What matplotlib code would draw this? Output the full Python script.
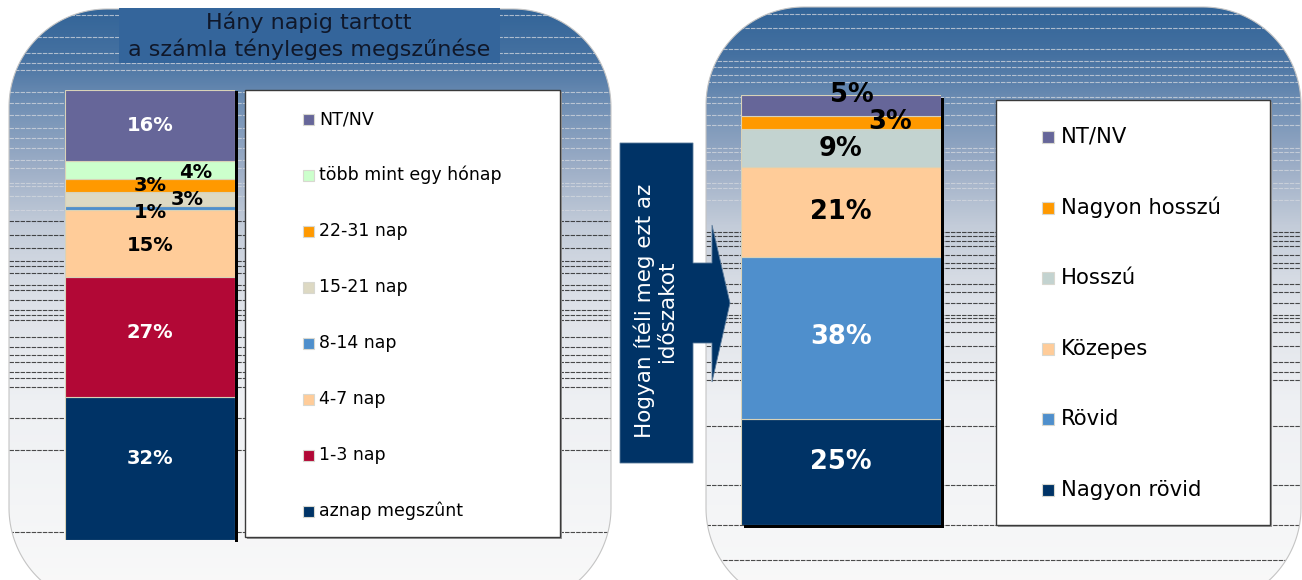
import numpy as np
import matplotlib
matplotlib.use("Agg")
import matplotlib.pyplot as plt
from matplotlib.patches import Rectangle, Polygon
from matplotlib.colors import to_rgb

# ---------------- data ----------------
left_title = "Hány napig tartott\na számla tényleges megszűnése"
left_categories = ["aznap megszûnt", "1-3 nap", "4-7 nap", "8-14 nap",
                   "15-21 nap", "22-31 nap", "több mint egy hónap", "NT/NV"]
left_values = [32, 27, 15, 1, 3, 3, 4, 16]
left_colors = ["#003366", "#B20836", "#FFCC99", "#4F8FCC",
               "#DDD9C3", "#FF9900", "#CCFFCC", "#666699"]
left_text_colors = ["white", "white", "black", "black",
                    "black", "black", "black", "white"]

arrow_text = "Hogyan ítéli meg ezt az\nidőszakot"

right_categories = ["Nagyon rövid", "Rövid", "Közepes", "Hosszú",
                    "Nagyon hosszú", "NT/NV"]
right_values = [25, 38, 21, 9, 3, 5]
right_colors = ["#003366", "#4F8FCC", "#FFCC99", "#C3D3D0", "#FF9900", "#666699"]
right_text_colors = ["white", "white", "black", "black", "black", "black"]

# label nudges: (fraction of bar width, pixels downward)
left_label_shift = [(0, -10), (0, -5), (0, 2), (0, 4), (0.22, 0), (0, 0), (0.27, 2), (0, 0)]
right_label_shift = [(0, -10), (0, -1), (0, 0), (0, 1), (0.245, -1), (0.055, -11)]

W, H = 1302, 580
fig = plt.figure(figsize=(W / 100, H / 100), dpi=100)
fig.patch.set_facecolor("white")

canvas = fig.add_axes([0, 0, 1, 1])
canvas.axis("off")
canvas.set_xlim(0, W)
canvas.set_ylim(H, 0)


def px_axes(x0, y0, x1, y1):
    return fig.add_axes([x0 / W, 1 - y1 / H, (x1 - x0) / W, (y1 - y0) / H])


# ---------------- panel backgrounds ----------------
grad_stops = [(0, "#2f6296"), (55, "#4571a1"), (105, "#7190b5"), (165, "#9cadc6"),
              (225, "#c3ccd9"), (300, "#dde1e8"), (400, "#eef0f3"), (610, "#fafafa")]


def gradient_image(y0, y1):
    ys = np.arange(y0, y1)
    sy = [s[0] for s in grad_stops]
    cols = np.array([to_rgb(s[1]) for s in grad_stops])
    img = np.stack([np.interp(ys, sy, cols[:, k]) for k in range(3)], axis=-1)
    return img[:, None, :].repeat(2, axis=1)


def rounded_outline(x0, y0, x1, y1, r, n=40):
    pts = []
    corners = [(x1 - r, y0 + r, -90, 0), (x1 - r, y1 - r, 0, 90),
               (x0 + r, y1 - r, 90, 180), (x0 + r, y0 + r, 180, 270)]
    for cx, cy, a0, a1 in corners:
        t = np.radians(np.linspace(a0, a1, n))
        pts.extend(zip(cx + r * np.cos(t), cy + r * np.sin(t)))
    return np.array(pts)


def panel(x0, y0, x1, y1, r, line_ys):
    patch = Polygon(rounded_outline(x0, y0, x1, y1, r), closed=True,
                    facecolor="none", edgecolor="#c4c4c4", lw=0.8, zorder=3)
    canvas.add_patch(patch)
    im = canvas.imshow(gradient_image(y0, y1), extent=(x0, x1, y1, y0),
                       origin="upper", aspect="auto", zorder=0, interpolation="bilinear")
    im.set_clip_path(patch)
    for y in line_ys:
        if y < 215:
            col, a = "#d4d8df", 0.75
        else:
            col, a = "#202020", 0.8
        ln, = canvas.plot([x0, x1], [y, y], color=col, lw=0.8, alpha=a,
                          linestyle=(0, (4, 1)), zorder=1)
        ln.set_clip_path(patch)


left_lines = [15, 37, 53, 63, 70, 92, 103, 115, 128, 138, 148, 160, 168, 183, 186, 196,
              210, 221, 235, 248, 261, 266, 273, 285, 290, 300, 310, 315, 320, 337,
              347, 355, 362, 372, 378, 387, 418, 450, 532]
right_lines = [14, 28, 49, 61, 67, 75, 82, 97, 103, 115, 125, 148, 152, 160, 170, 183,
               188, 200, 232, 236, 241, 246, 255, 263, 268, 284, 292, 303, 315, 318,
               322, 332, 346, 362, 372, 380, 426, 485, 525, 560]
panel(9, 9, 611, 606, 98, left_lines)
panel(706, 7, 1301, 606, 98, right_lines)

# ---------------- title box ----------------
canvas.add_patch(Rectangle((119, 8), 381, 55, facecolor="#34659b", edgecolor="none", zorder=4))
canvas.text(309, 36, left_title, ha="center", va="center", fontsize=16,
            color="#10182a", linespacing=1.3, zorder=5)

# ---------------- arrow callout ----------------
arrow_pts = [(620, 143), (693, 143), (693, 263), (712, 263), (712, 225), (730, 303),
             (712, 382), (712, 343), (693, 343), (693, 463), (620, 463)]
canvas.add_patch(Polygon(arrow_pts, closed=True, facecolor="#003366",
                         edgecolor="#5a7a9a", lw=0.6, zorder=4))
canvas.text(655, 311, arrow_text, rotation=90, ha="center", va="center",
            multialignment="center", fontsize=15.5, color="white", linespacing=1.15, zorder=5)


# ---------------- stacked bars ----------------
def stacked_bar(box, values, colors, text_colors, shifts, fontsize):
    ax = px_axes(*box)
    ax.set_xlim(-0.5, 0.5)
    ax.set_ylim(0, sum(values))
    ax.axis("off")
    bottom = 0
    for v, c, tc, (dx, dy) in zip(values, colors, text_colors, shifts):
        ax.bar(0, v, width=1, bottom=bottom, color=c, edgecolor="#d8d2b8", lw=0.8)
        ax.annotate(f"{v}%", (dx, bottom + v / 2), xytext=(0, -dy * 0.72),
                    textcoords="offset points", ha="center", va="center",
                    fontsize=fontsize, fontweight="bold", color=tc,
                    annotation_clip=False)
        bottom += v
    return ax


# shadows behind the bars
canvas.add_patch(Rectangle((235, 91), 3, 451, facecolor="black", edgecolor="none", zorder=6))
canvas.add_patch(Rectangle((744, 98), 200, 430, facecolor="black", edgecolor="none", zorder=6))

stacked_bar((65, 90, 235, 540), left_values, left_colors, left_text_colors,
            left_label_shift, 14)
stacked_bar((741, 95, 941, 525), right_values, right_colors, right_text_colors,
            right_label_shift, 18.5)


# ---------------- legends ----------------
def legend_box(x0, y0, x1, y1, labels, colors, y_first, step, mx, msize, tx, fontsize):
    canvas.add_patch(Rectangle((x0 + 2, y0 + 2), x1 - x0, y1 - y0, facecolor="#9a9a9a",
                               edgecolor="none", zorder=6))
    canvas.add_patch(Rectangle((x0, y0), x1 - x0, y1 - y0, facecolor="white",
                               edgecolor="#3a3a3a", lw=1.0, zorder=7))
    for i, (lab, col) in enumerate(zip(labels[::-1], colors[::-1])):
        yc = y_first + i * step
        canvas.add_patch(Rectangle((mx, yc - msize / 2), msize, msize, facecolor=col,
                                   edgecolor="#d8d8d0", lw=0.8, zorder=8))
        canvas.text(tx, yc, lab, ha="left", va="center", fontsize=fontsize,
                    color="black", zorder=8)


legend_box(245, 90, 560, 537, left_categories, left_colors,
           119, 56, 303, 11, 319, 12.5)
legend_box(996, 100, 1270, 525, right_categories, right_colors,
           137, 70.6, 1042, 12, 1061, 15.2)

canvas.set_xlim(0, W)
canvas.set_ylim(H, 0)

fig.savefig("out.png", dpi=100, facecolor="white")
